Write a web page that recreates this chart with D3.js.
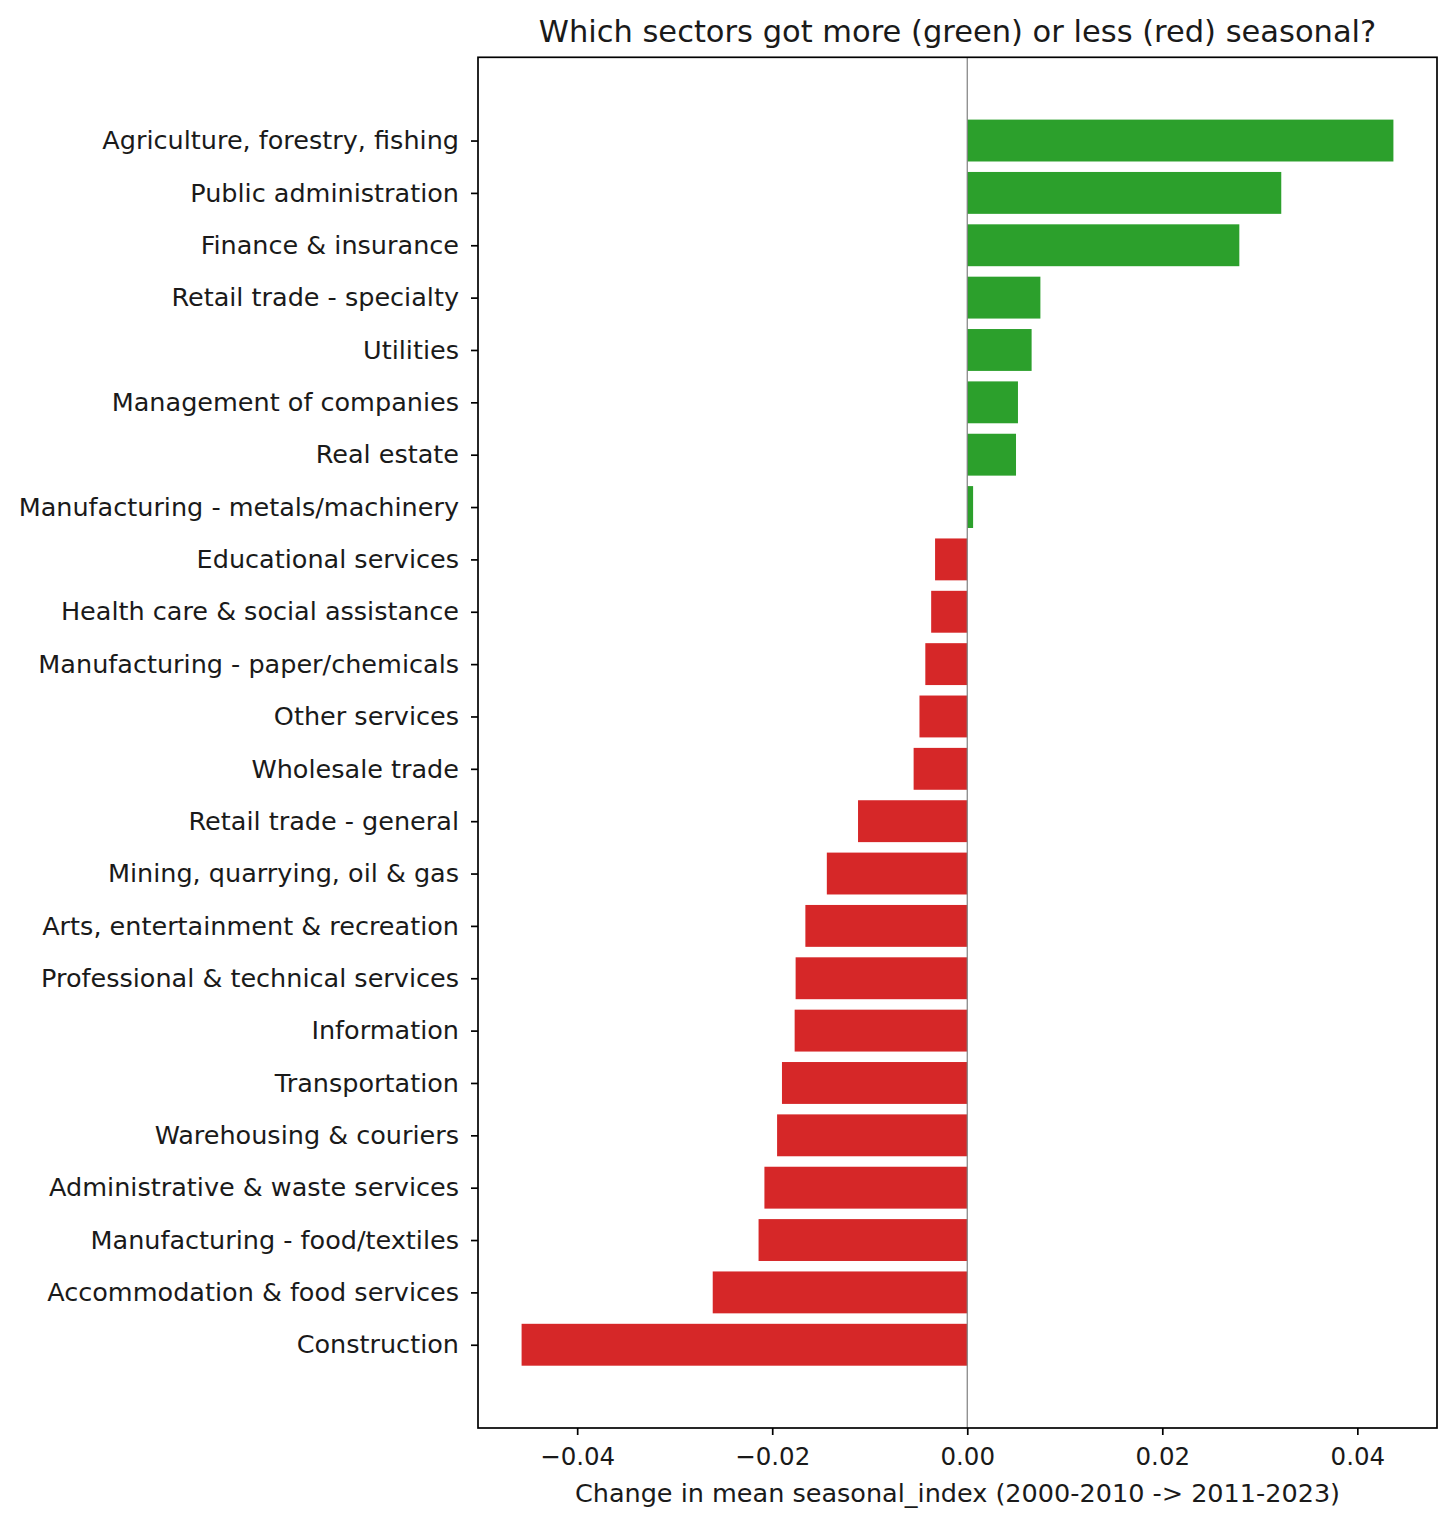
<!DOCTYPE html>
<html>
<head>
<meta charset="utf-8">
<script src="https://cdn.jsdelivr.net/npm/d3@7"></script>
<style>
  body { margin: 0; background: #fff; }
  svg text { font-family: "DejaVu Sans", sans-serif; fill: #1a1a1a; }
</style>
</head>
<body>
<div class="chart"></div>
<script>
// sectors, top to bottom
const sectors = [
  'Agriculture, forestry, fishing',
  'Public administration',
  'Finance & insurance',
  'Retail trade - specialty',
  'Utilities',
  'Management of companies',
  'Real estate',
  'Manufacturing - metals/machinery',
  'Educational services',
  'Health care & social assistance',
  'Manufacturing - paper/chemicals',
  'Other services',
  'Wholesale trade',
  'Retail trade - general',
  'Mining, quarrying, oil & gas',
  'Arts, entertainment & recreation',
  'Professional & technical services',
  'Information',
  'Transportation',
  'Warehousing & couriers',
  'Administrative & waste services',
  'Manufacturing - food/textiles',
  'Accommodation & food services',
  'Construction'
];

// change in mean seasonal_index
const changes = [
  0.0437, 0.0322, 0.0279, 0.0075, 0.0066, 0.0052, 0.0050, 0.0006,
  -0.0033, -0.0037, -0.0043, -0.0049, -0.0055, -0.0112, -0.0144, -0.0166,
  -0.0176, -0.0177, -0.0190, -0.0195, -0.0208, -0.0214, -0.0261, -0.0457
];

const xTicks = [-0.04, -0.02, 0.00, 0.02, 0.04];

const W = 1456, H = 1526;
const margin = {top: 57.3, right: W - 1437, bottom: H - 1428, left: 478};
const iw = W - margin.left - margin.right;
const ih = H - margin.top - margin.bottom;

const data = sectors.map((s, i) => ({name: s, value: changes[i]}));

const svg = d3.select('.chart').append('svg')
  .attr('width', W)
  .attr('height', H);

// matplotlib-like 5% margins on x
const lo = d3.min(changes), hi = d3.max(changes);
const pad = (hi - lo) * 0.05;
const x = d3.scaleLinear()
  .domain([lo - pad, hi + pad])
  .range([0, iw]);

// bars centred on integer positions, height 0.8, 5% margin
const n = sectors.length;
const yPad = (n - 1 + 0.8) * 0.05;
const yPos = d3.scaleLinear()
  .domain([-0.4 - yPad, n - 1 + 0.4 + yPad])
  .range([0, ih]);
const band = yPos(0.8) - yPos(0);

const g = svg.append('g')
  .attr('transform', `translate(${margin.left},${margin.top})`);

g.selectAll('.bar')
  .data(data)
  .enter().append('rect')
  .attr('class', 'bar')
  .attr('x', d => x(Math.min(0, d.value)))
  .attr('width', d => Math.abs(x(d.value) - x(0)))
  .attr('y', (d, i) => yPos(i) - band / 2)
  .attr('height', band)
  .attr('fill', d => d.value >= 0 ? '#2ca02c' : '#d62728');

// zero line
g.append('line')
  .attr('x1', x(0)).attr('x2', x(0))
  .attr('y1', 0).attr('y2', ih)
  .attr('stroke', '#7f7f7f')
  .attr('stroke-width', 1.2);

// x axis
const xAxis = g.append('g')
  .attr('transform', `translate(0,${ih})`)
  .call(d3.axisBottom(x).tickValues(xTicks)
    .tickFormat(d => d3.format('.2f')(d).replace('-', '\u2212'))
    .tickSize(7).tickPadding(13));
xAxis.select('.domain').remove();
xAxis.selectAll('.tick line').attr('stroke', '#000').attr('stroke-width', 1.7);
xAxis.selectAll('.tick text')
  .attr('font-size', 24.5)
  .attr('fill', '#1a1a1a');

// y axis
const yAxis = g.append('g')
  .call(d3.axisLeft(yPos).tickValues(d3.range(n))
    .tickFormat(i => sectors[i])
    .tickSize(7).tickPadding(12));
yAxis.select('.domain').remove();
yAxis.selectAll('.tick line').attr('stroke', '#000').attr('stroke-width', 1.7);
yAxis.selectAll('.tick text')
  .attr('font-size', 25.5)
  .attr('fill', '#1a1a1a');

// frame
g.append('rect')
  .attr('width', iw).attr('height', ih)
  .attr('fill', 'none')
  .attr('stroke', '#000')
  .attr('stroke-width', 1.7);

// title
svg.append('text')
  .attr('x', margin.left + iw / 2)
  .attr('y', 42)
  .attr('text-anchor', 'middle')
  .attr('font-size', 30.5)
  .text('Which sectors got more (green) or less (red) seasonal?');

// x label
svg.append('text')
  .attr('x', margin.left + iw / 2)
  .attr('y', 1502)
  .attr('text-anchor', 'middle')
  .attr('font-size', 25.5)
  .text('Change in mean seasonal_index (2000-2010 -> 2011-2023)');
</script>
</body>
</html>
